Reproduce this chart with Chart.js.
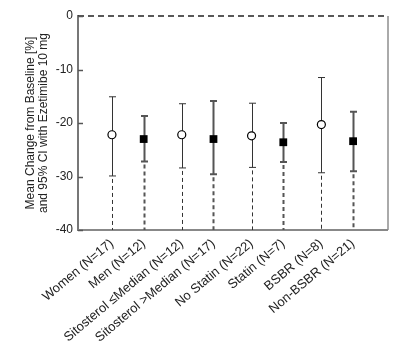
<!DOCTYPE html>
<html>
<head>
<meta charset="utf-8">
<script src="https://cdn.jsdelivr.net/npm/chart.js@4/dist/chart.umd.min.js"></script>
<style>
  html, body { margin: 0; padding: 0; background: #fff; }
  #wrap { width: 400px; height: 353px; }
</style>
</head>
<body>
<div id="wrap"><canvas id="c" width="400" height="353"></canvas></div>
<script>
// ---- data ----
const categories = ["Women (N=17)", "Men (N=12)", "Sitosterol \u2264Median (N=12)", "Sitosterol >Median (N=17)",
                    "No Statin (N=22)", "Statin (N=7)", "BSBR (N=8)", "Non-BSBR (N=21)"];
const means  = [-22.2, -23.0, -22.2, -23.0, -22.4, -23.6, -20.3, -23.4];
const ciHigh = [-15.1, -18.7, -16.4, -15.9, -16.3, -20.0, -11.5, -17.9];
const ciLow  = [-29.9, -27.2, -28.4, -29.6, -28.3, -27.3, -29.3, -29.0];
const yTicks = [0, -10, -20, -30, -40];
const yTitle = ["Mean Change from Baseline [%]", "and 95% CI with Ezetimibe 10 mg"];

// layout: categories come in pairs, with a slightly larger gap between pairs
const xPos = categories.map((_, i) => i + Math.floor(i / 2) * 0.2);
const isOpen = categories.map((_, i) => i % 2 === 0);

const points = means.map((m, i) => ({ x: xPos[i], y: m }));

const errPlugin = {
  id: 'errbars',
  beforeDatasetsDraw(chart) {
    const { ctx, chartArea, scales } = chart;
    const xs = scales.x, ys = scales.y;
    ctx.save();
    // top dashed line at 0
    ctx.strokeStyle = '#222';
    ctx.lineWidth = 1.5;
    ctx.setLineDash([6, 4]);
    ctx.beginPath();
    ctx.moveTo(chartArea.left, ys.getPixelForValue(0));
    ctx.lineTo(chartArea.right, ys.getPixelForValue(0));
    ctx.stroke();
    ctx.setLineDash([]);
    // right border
    ctx.strokeStyle = '#aaa';
    ctx.lineWidth = 2;
    ctx.beginPath();
    ctx.moveTo(chartArea.right, ys.getPixelForValue(0));
    ctx.lineTo(chartArea.right, chartArea.bottom);
    ctx.stroke();
    // bottom border
    ctx.strokeStyle = '#888';
    ctx.lineWidth = 2;
    ctx.beginPath();
    ctx.moveTo(chartArea.left, chartArea.bottom);
    ctx.lineTo(chartArea.right, chartArea.bottom);
    ctx.stroke();
    // inward y ticks
    ctx.strokeStyle = '#555';
    ctx.lineWidth = 1.5;
    yTicks.forEach(v => {
      const py = Math.round(ys.getPixelForValue(v)) + 0.5;
      ctx.beginPath();
      ctx.moveTo(chartArea.left, py);
      ctx.lineTo(chartArea.left + 5, py);
      ctx.stroke();
    });
    // error bars
    means.forEach((m, i) => {
      const px = Math.round(xs.getPixelForValue(xPos[i])) + 0.5;
      const pHi = ys.getPixelForValue(ciHigh[i]);
      const pLo = ys.getPixelForValue(ciLow[i]);
      const pBot = ys.getPixelForValue(ys.min);
      const thick = !isOpen[i];
      ctx.strokeStyle = thick ? '#555' : '#333';
      ctx.lineWidth = thick ? 2 : 1;
      ctx.setLineDash([]);
      ctx.beginPath();
      ctx.moveTo(px, pHi); ctx.lineTo(px, pLo);
      ctx.moveTo(px - 3.5, pHi); ctx.lineTo(px + 3.5, pHi);
      ctx.moveTo(px - 3.5, pLo); ctx.lineTo(px + 3.5, pLo);
      ctx.stroke();
      ctx.setLineDash([4, 3]);
      ctx.beginPath();
      ctx.moveTo(px, pLo + 3); ctx.lineTo(px, pBot);
      ctx.stroke();
    });
    ctx.restore();
  }
};

new Chart(document.getElementById('c'), {
  type: 'scatter',
  data: {
    datasets: [{
      data: points,
      pointStyle: isOpen.map(o => o ? 'circle' : 'rect'),
      pointRadius: isOpen.map(o => o ? 4 : 5.5),
      pointBackgroundColor: isOpen.map(o => o ? '#fff' : '#000'),
      pointBorderColor: '#000',
      pointBorderWidth: isOpen.map(o => o ? 1.2 : 0),
      showLine: false
    }]
  },
  options: {
    responsive: false,
    animation: false,
    events: [],
    layout: { padding: { top: 16, right: 12, left: 0, bottom: 0 } },
    plugins: { legend: { display: false }, tooltip: { enabled: false } },
    scales: {
      x: {
        type: 'linear',
        min: -1.07,
        max: 8.7,
        afterBuildTicks: s => { s.ticks = xPos.map(v => ({ value: v })); },
        afterFit: s => { s.height = 123; },
        grid: { display: false, drawTicks: false },
        border: { display: false },
        ticks: {
          autoSkip: false,
          minRotation: 40,
          maxRotation: 40,
          padding: 6,
          color: '#222',
          font: { family: 'Liberation Sans, Arial, sans-serif', size: 13 },
          callback: (v, i) => categories[i]
        }
      },
      y: {
        min: -40,
        max: 0,
        afterBuildTicks: s => { s.ticks = yTicks.map(v => ({ value: v })); },
        afterFit: s => { s.width = 78; },
        grid: { display: false, drawTicks: false },
        border: { display: true, color: '#777', width: 2 },
        ticks: {
          padding: 5,
          color: '#222',
          font: { family: 'Liberation Sans, Arial, sans-serif', size: 12 }
        },
        title: {
          display: true,
          text: yTitle,
          color: '#222',
          padding: { top: 24, bottom: 0 },
          font: { family: 'Liberation Sans, Arial, sans-serif', size: 12, lineHeight: 1.1 }
        }
      }
    }
  },
  plugins: [errPlugin]
});
</script>
</body>
</html>
